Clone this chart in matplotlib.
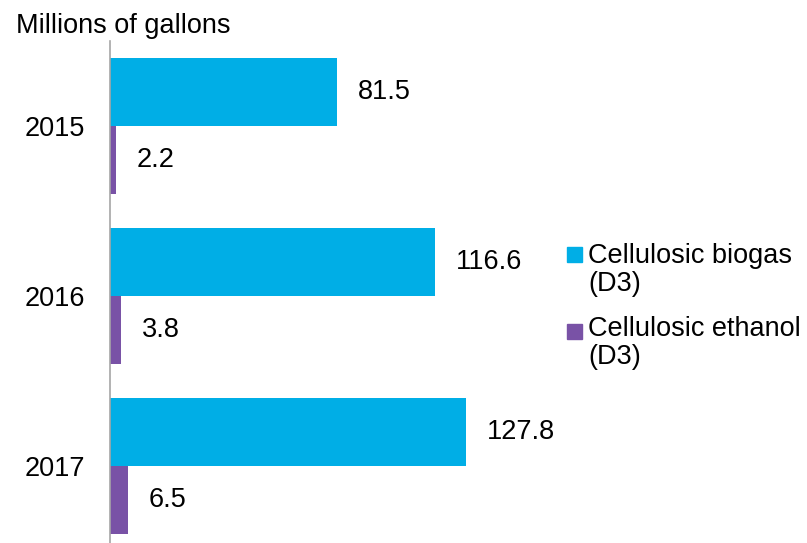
import matplotlib
matplotlib.use("Agg")
import matplotlib.pyplot as plt
from matplotlib.patches import Rectangle
import numpy as np

plt.rcParams['font.family'] = ['Liberation Sans', 'DejaVu Sans']

years = ["2015", "2016", "2017"]
biogas = [81.5, 116.6, 127.8]
ethanol = [2.2, 3.8, 6.5]
series_names = ["Cellulosic biogas\n(D3)", "Cellulosic ethanol\n(D3)"]
colors = ["#00AEE6", "#7952A6"]

W, H = 807, 543
fig = plt.figure(figsize=(W / 100, H / 100), dpi=100)
ax = fig.add_axes([110 / W, 0, (555.6 - 110) / W, 1 - 41 / H])

y = np.arange(len(years))
bw = 0.4
ax.barh(y - bw / 2, biogas, height=bw, color=colors[0], align='center')
ax.barh(y + bw / 2, ethanol, height=bw, color=colors[1], align='center')

fs = 19.5
for yi, v in zip(y, biogas):
    ax.text(v + 7.5, yi - bw / 2, f"{v:.1f}", va='center', ha='left', fontsize=fs)
for yi, v in zip(y, ethanol):
    ax.text(v + 7.5, yi + bw / 2, f"{v:.1f}", va='center', ha='left', fontsize=fs)

ax.set_xlim(0, 160)
ax.set_ylim(2.453, -0.5)
ax.set_yticks(y)
ax.set_yticklabels(years, fontsize=fs)
ax.tick_params(axis='y', length=0, pad=18)
ax.set_xticks([])
for s in ['top', 'right', 'bottom']:
    ax.spines[s].set_visible(False)
ax.spines['left'].set_color('#A6A6A6')
ax.spines['left'].set_linewidth(1.2)

fig.text(16 / W, 1 - 33 / H, "Millions of gallons", fontsize=fs, va='baseline', ha='left')

# legend
text_tops = [243, 316]
square_centers = [255, 331]
for name, c, tt, sc in zip(series_names, colors, text_tops, square_centers):
    fig.patches.append(Rectangle((567 / W, 1 - (sc + 7.5) / H), 15 / W, 15 / H,
                                 transform=fig.transFigure, color=c))
    fig.text(588 / W, 1 - tt / H, name, fontsize=fs, va='top', ha='left',
             linespacing=1.1)

fig.savefig("out.png", dpi=100)
